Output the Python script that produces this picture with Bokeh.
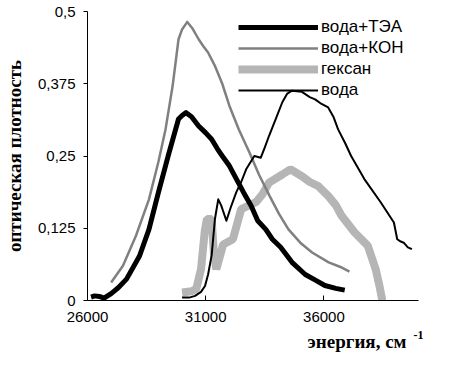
from bokeh.plotting import figure
from bokeh.models import Range1d, FixedTicker, Legend, LegendItem, Title
from bokeh.embed import file_html
from bokeh.resources import INLINE

# --- data (energy in cm^-1, optical density) ---
tea_x = [26150, 26300, 26500, 26700, 27000, 27300, 27650, 28200, 28600, 29000,
         29450, 29850, 30000, 30170, 30400, 30700, 31000, 31250, 31500, 31700,
         32000, 32300, 32600, 32920, 33200, 33540, 33820, 34170, 34650, 35210,
         35600, 36040, 36500, 36880]
tea_y = [0.006, 0.008, 0.007, 0.004, 0.012, 0.022, 0.037, 0.077, 0.123, 0.187,
         0.256, 0.314, 0.320, 0.325, 0.318, 0.302, 0.290, 0.279, 0.262, 0.250,
         0.233, 0.210, 0.187, 0.164, 0.138, 0.123, 0.106, 0.092, 0.066, 0.045,
         0.036, 0.026, 0.021, 0.018]

koh_x = [27000, 27500, 28050, 28600, 29000, 29300, 29600, 29850, 30000, 30220,
         30450, 30700, 30900, 31100, 31400, 31700, 32000, 32400, 32850, 33250,
         33700, 34100, 34500, 35000, 35500, 36200, 36700, 37080]
koh_y = [0.031, 0.060, 0.112, 0.175, 0.240, 0.296, 0.371, 0.452, 0.469, 0.482,
         0.470, 0.452, 0.440, 0.429, 0.405, 0.375, 0.337, 0.296, 0.256, 0.218,
         0.181, 0.150, 0.123, 0.100, 0.083, 0.066, 0.058, 0.050]

hex_x = [30000, 30400, 30600, 30800, 30960, 31050, 31250, 31350, 31450, 31740,
         32150, 32500, 33125, 33400, 33680, 34240, 34580, 35070, 35400, 35760,
         36180, 36500, 36740, 37290, 37850, 38190, 38350, 38470]
hex_y = [0.014, 0.016, 0.020, 0.054, 0.120, 0.141, 0.141, 0.080, 0.054, 0.097,
         0.106, 0.158, 0.170, 0.184, 0.204, 0.218, 0.227, 0.215, 0.205, 0.198,
         0.181, 0.165, 0.147, 0.118, 0.095, 0.054, 0.025, 0.000]

water_x = [30000, 30300, 30550, 30800, 30970, 31100, 31250, 31390, 31530, 31650,
           31875, 32050, 32290, 32500, 32710, 33055, 33330, 33500, 33680, 33960,
           34240, 34450, 34650, 35070, 35400, 35625, 35900, 36180, 36400, 36600,
           36900, 37150, 37710, 38400, 38960, 39100, 39250, 39375, 39550, 39720]
water_y = [0.005, 0.005, 0.008, 0.015, 0.025, 0.045, 0.078, 0.141, 0.175, 0.165,
           0.138, 0.160, 0.187, 0.205, 0.227, 0.250, 0.247, 0.265, 0.285, 0.314,
           0.343, 0.358, 0.363, 0.361, 0.352, 0.348, 0.340, 0.334, 0.318, 0.296,
           0.272, 0.250, 0.210, 0.170, 0.135, 0.106, 0.102, 0.100, 0.092, 0.089]

x_ticks = [26000, 31000, 36000]
y_ticks = [0, 0.125, 0.25, 0.375, 0.5]
y_tick_labels = ["0", "0,125", "0,25", "0,375", "0,5"]
series_names = ["вода+ТЭА", "вода+КОН", "гексан", "вода"]

p = figure(width=437, height=358, output_backend="svg", toolbar_location=None,
           x_range=Range1d(26000, 40000), y_range=Range1d(0, 0.5),
           min_border_left=81, min_border_right=19, min_border_top=11,
           min_border_bottom=58)
p.outline_line_color = None
p.grid.visible = False
p.background_fill_color = "white"
p.border_fill_color = "white"

r_hex = p.line(hex_x, hex_y, line_color="#b5b5b5", line_width=8)
r_koh = p.line(koh_x, koh_y, line_color="#808080", line_width=2.5, line_join="round")
r_tea = p.line(tea_x, tea_y, line_color="black", line_width=5, line_join="round")
r_wat = p.line(water_x, water_y, line_color="black", line_width=2, line_join="round")

xa = p.xaxis[0]
xa.ticker = FixedTicker(ticks=x_ticks)
xa.major_tick_in = 5
xa.major_tick_out = 0
xa.minor_tick_line_color = None
xa.major_label_standoff = 11
xa.major_label_text_font = "Liberation Sans"
xa.major_label_text_font_size = "15px"
xa.major_label_text_color = "black"
xa.axis_line_color = "black"
# superscript of the unit as the axis label, aligned to the end of the axis
xa.axis_label = "-1"
xa.axis_label_text_font = "Liberation Serif"
xa.axis_label_text_font_style = "bold"
xa.axis_label_text_font_size = "12px"
xa.axis_label_text_color = "black"
xa.axis_label_standoff = 6
xa.axis_label_align = "end"

ya = p.yaxis[0]
ya.ticker = FixedTicker(ticks=y_ticks)
ya.major_label_overrides = {t: l for t, l in zip(y_ticks, y_tick_labels)}
ya.major_tick_in = 0
ya.major_tick_out = 4
ya.minor_tick_line_color = None
ya.major_label_standoff = 8
ya.major_label_text_font = "Liberation Sans"
ya.major_label_text_font_size = "15px"
ya.major_label_text_color = "black"
ya.axis_line_color = "black"
ya.axis_label = "оптическая плотность"
ya.axis_label_text_font = "Liberation Serif"
ya.axis_label_text_font_style = "bold"
ya.axis_label_text_font_size = "19px"
ya.axis_label_standoff = 10
ya.axis_label_text_color = "black"

x_title = Title(text="энергия, см", align="right", offset=12, vertical_align="top",
                standoff=-21, text_font="Liberation Serif", text_font_style="bold",
                text_font_size="19px", text_color="black")
p.add_layout(x_title, "below")

legend = Legend(items=[LegendItem(label=series_names[0], renderers=[r_tea]),
                       LegendItem(label=series_names[1], renderers=[r_koh]),
                       LegendItem(label=series_names[2], renderers=[r_hex]),
                       LegendItem(label=series_names[3], renderers=[r_wat])],
                location=(151, 200), padding=0, margin=0, spacing=1,
                glyph_width=80, glyph_height=20, label_height=20,
                label_standoff=3, label_text_font="Liberation Sans",
                label_text_font_size="17px", label_text_color="black",
                border_line_color=None, background_fill_alpha=0)
p.add_layout(legend)

open("out.html", "w").write(file_html(p, INLINE))
